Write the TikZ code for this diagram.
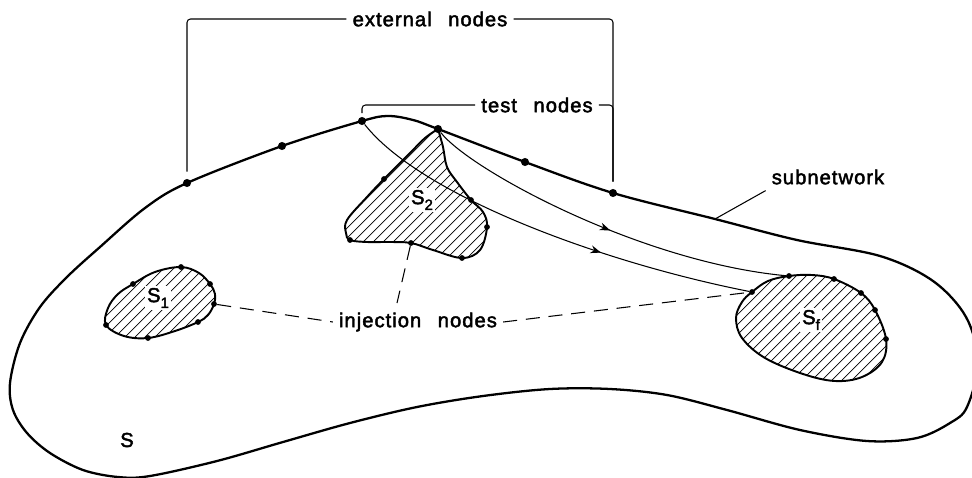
\documentclass[tikz,border=0pt]{standalone}
\usepackage{fontspec}
\setmainfont{Liberation Sans}
\newfontfamily\lettering[LetterSpace=5,WordSpace=2.5,FakeBold=2.2]{Liberation Sans}
\usetikzlibrary{arrows.meta,decorations.markings}
\newcommand{\lowsub}[1]{\raisebox{-0.55ex}{\fontsize{8.5}{9}\selectfont #1}}

\begin{document}
\begin{tikzpicture}[x=0.02cm, y=-0.02cm,
        every node/.style={font=\lettering\fontsize{11.5}{13}\selectfont},
        bigdot/.style={circle, fill, inner sep=0pt, minimum size=4.6pt},
        smalldot/.style={circle, fill, inner sep=0pt, minimum size=3.3pt},
        outline/.style={line width=1.1pt},
        hatch/.style={line width=0.4pt},
        thinline/.style={line width=0.6pt},
        bracket/.style={line width=0.6pt, rounded corners=2pt},
        injline/.style={line width=0.6pt, dash pattern=on 8pt off 5pt},
        sname/.style={fill=white, inner sep=1pt},
        flowarrow/.style={postaction={decorate}, decoration={markings,
            mark=at position #1 with {\arrow{Stealth[length=6pt,width=4.5pt]}}}}]

                \useasboundingbox (0,0) rectangle (972,477);

                % Subnetwork S
                \draw[line width=1.3pt] plot[smooth cycle, tension=0.55] coordinates {
                    (187,183) (282,146) (362,121) (388,116) (413,120) (438,129)
                    (525,162) (613,193) (715,219) (797,240) (880,256) (933,281)
                    (966,317) (978,362) (967,407) (950,423) (917,438) (867,441)
                    (800,430) (727,410) (667,395) (610,389) (550,389) (483,396)
                    (417,407) (350,423) (283,442) (217,461) (150,476) (118,477)
                    (83,470) (50,453) (27,433) (13,410) (10,383) (20,343)
                    (40,307) (67,277) (100,247) (145,208)};

                % Regions S1, S2, Sf
                \draw[outline, path picture={
                        \foreach \k in {0,10,...,200} \draw[hatch] (20+\k,342) -- ++(80,-80);}]
                    plot[smooth cycle, tension=0.6] coordinates {
                    (106,325) (108,308) (118,294) (133,284) (155,272) (181,267)
                    (199,273) (210,284) (215,294) (214,304) (208,315) (198,322)
                    (175,331) (148,338) (124,336)};
                \draw[outline, path picture={
                        \foreach \k in {0,10,...,300} \draw[hatch] (203+\k,262) -- ++(137,-137);}]
                    plot[smooth, tension=0.6] coordinates {
                    (438,129) (425,138) (410,153) (384,179) (367,197) (347,220)
                    (346,233) (350,240) (367,242) (390,242) (411,243) (433,250)
                    (462,258) (480,250) (487,227) (483,212) (471,200) (457,182)
                    (447,167) (443,147) (438,129)} -- cycle;
                \draw[outline, path picture={
                        \foreach \k in {0,10,...,280} \draw[hatch] (617+\k,385) -- ++(115,-115);}]
                    plot[smooth cycle, tension=0.6] coordinates {
                    (752,292) (768,281) (789,276) (812,275) (834,279) (861,293)
                    (875,310) (886,339) (882,362) (862,377) (835,381) (803,374)
                    (765,358) (742,338) (736,318) (742,302)};

                % Labels
                \node[sname] (s1) at (158,298) {S\lowsub{1}};
                \node[sname] (s2) at (422,200) {S\lowsub{2}};
                \node[sname] (sf) at (811,320) {S\lowsub{f}};
                \node (s) at (127,440) {S};
                \node (extlbl) at (430,19) {external nodes};
                \node (testlbl) at (537,105) {test nodes};
                \node (sublbl) at (828,177) {subnetwork};
                \node (injlbl) at (418,322) {injection nodes};

                % Nodes
                \node[bigdot] (ext1) at (187,183) {};
                \node[bigdot] (ext2) at (282,146) {};
                \node[bigdot] (test1) at (362,121) {};
                \node[bigdot] (test2) at (438,129) {};
                \node[bigdot] (ext3) at (525,162) {};
                \node[bigdot] (ext4) at (613,193) {};

                \node[smalldot] (a1) at (133,284) {};
                \node[smalldot] (a2) at (181,267) {};
                \node[smalldot] (a3) at (210,284) {};
                \node[smalldot] (a4) at (214,304) {};
                \node[smalldot] (a5) at (198,322) {};
                \node[smalldot] (a6) at (148,338) {};
                \node[smalldot] (a7) at (106,325) {};

                \node[smalldot] (b1) at (384,179) {};
                \node[smalldot] (b2) at (350,240) {};
                \node[smalldot] (b3) at (411,243) {};
                \node[smalldot] (b4) at (462,258) {};
                \node[smalldot] (b5) at (487,227) {};
                \node[smalldot] (b6) at (471,200) {};

                \node[smalldot] (f1) at (752,292) {};
                \node[smalldot] (f2) at (789,276) {};
                \node[smalldot] (f3) at (834,279) {};
                \node[smalldot] (f4) at (861,293) {};
                \node[smalldot] (f5) at (875,310) {};
                \node[smalldot] (f6) at (886,339) {};

                \coordinate (subpt) at (715,219);
                \coordinate (injtop) at (397,303);

                % Paths from test nodes
                \draw[thinline, flowarrow=0.64] (test1) .. controls (420,195) and (600,262) .. (f1);
                \draw[thinline, flowarrow=0.52] (test2) .. controls (470,170) and (640,262) .. (f2);

                % Brackets
                \draw[bracket] ([yshift=4pt]ext1.north) |- (extlbl.west);
                \draw[bracket] (extlbl.east) -| ([yshift=4pt]ext4.north);
                \draw[bracket] ([yshift=2pt]test1.north) |- (testlbl.west);
                \draw[bracket] (testlbl.east) -| ([yshift=4pt]ext4.north);
                \draw[thinline] (sublbl.south west) -- (subpt);

                % Injection nodes
                \draw[injline] (a4) -- (injlbl.west);
                \draw[injline] (injlbl.east) -- (f1);
                \draw[injline] (b3) -- (injtop);

\end{tikzpicture}
\end{document}
